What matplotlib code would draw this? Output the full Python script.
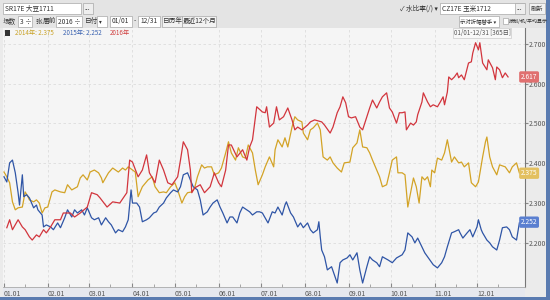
import matplotlib
matplotlib.use("Agg")
import matplotlib.pyplot as plt
import matplotlib.transforms as mtransforms
from matplotlib.patches import Rectangle

plt.rcParams['font.family'] = ['Noto Sans CJK SC', 'DejaVu Sans']

# ---- data (day of year, price) ----
red_days = [2, 4, 6, 10, 13, 15, 18, 20, 23, 25, 28, 30, 33, 36, 40, 42, 47, 50, 54, 59,
            62, 66, 68, 73, 77, 82, 87, 89, 91, 95, 98, 101, 103, 107, 110, 113, 116, 119, 123, 125,
            127, 130, 132, 133, 135, 139, 142, 146, 149, 152, 154, 157, 159, 161, 165, 169, 172, 174, 176, 179,
            183, 185, 186, 188, 191, 193, 195, 198, 201, 204, 206, 208, 211, 215, 217, 220, 225, 227, 231, 233,
            236, 238, 240, 242, 244, 246, 249, 252, 254, 257, 259, 261, 264, 266, 268, 271, 273, 275, 278, 280,
            282, 284, 285, 288, 290, 292, 293, 296, 297, 300, 302, 304, 307, 309, 311, 312, 314, 315, 317, 319,
            321, 322, 324, 326, 329, 331, 332, 334, 336, 337, 339, 342, 343, 346, 348, 349, 351, 353, 355, 357]
red_vals = [2.238, 2.258, 2.233, 2.258, 2.240, 2.233, 2.215, 2.207, 2.220, 2.215, 2.233, 2.225, 2.240, 2.258, 2.258, 2.275, 2.275, 2.265, 2.275, 2.290,
            2.326, 2.321, 2.313, 2.290, 2.303, 2.300, 2.326, 2.408, 2.403, 2.366, 2.383, 2.421, 2.376, 2.351, 2.408, 2.383, 2.351, 2.346, 2.366, 2.408,
            2.454, 2.434, 2.383, 2.326, 2.338, 2.346, 2.326, 2.341, 2.376, 2.351, 2.341, 2.383, 2.446, 2.446, 2.416, 2.434, 2.408, 2.441, 2.459, 2.542,
            2.529, 2.527, 2.542, 2.491, 2.501, 2.542, 2.509, 2.517, 2.539, 2.509, 2.484, 2.491, 2.484, 2.496, 2.504, 2.509, 2.504, 2.496, 2.476, 2.491,
            2.527, 2.542, 2.567, 2.552, 2.517, 2.514, 2.517, 2.491, 2.484, 2.517, 2.539, 2.559, 2.539, 2.554, 2.567, 2.577, 2.539, 2.529, 2.501, 2.527,
            2.527, 2.529, 2.484, 2.501, 2.496, 2.504, 2.522, 2.554, 2.577, 2.554, 2.542, 2.547, 2.542, 2.554, 2.567, 2.547, 2.579, 2.617, 2.610, 2.617,
            2.627, 2.615, 2.622, 2.610, 2.652, 2.655, 2.677, 2.703, 2.685, 2.703, 2.652, 2.635, 2.660, 2.640, 2.610, 2.642, 2.635, 2.615, 2.627, 2.617]

gold_days = [0, 2, 4, 6, 8, 10, 13, 15, 17, 18, 21, 23, 25, 27, 29, 31, 34, 36, 40, 43,
             45, 48, 52, 54, 56, 59, 61, 64, 67, 69, 70, 74, 77, 81, 84, 86, 88, 91, 93, 95,
             98, 102, 105, 107, 110, 113, 115, 118, 121, 123, 126, 128, 130, 133, 135, 137, 140, 142, 144, 147,
             149, 152, 154, 157, 159, 161, 164, 166, 169, 171, 173, 176, 178, 180, 183, 185, 188, 191, 192, 194,
             197, 199, 201, 204, 206, 208, 211, 212, 215, 217, 219, 222, 224, 226, 229, 231, 233, 236, 239, 241,
             245, 247, 250, 252, 254, 257, 259, 261, 264, 266, 268, 271, 273, 275, 278, 279, 282, 284, 286, 288,
             290, 292, 294, 296, 298, 300, 302, 303, 305, 307, 310, 312, 314, 317, 319, 322, 324, 326, 329, 331,
             334, 336, 339, 341, 342, 344, 346, 349, 351, 355, 358, 360, 363, 365]
gold_vals = [2.378, 2.366, 2.351, 2.303, 2.283, 2.288, 2.290, 2.328, 2.316, 2.308, 2.303, 2.308, 2.300, 2.275, 2.288, 2.290, 2.328, 2.333, 2.328, 2.326,
             2.346, 2.333, 2.341, 2.363, 2.371, 2.358, 2.378, 2.383, 2.376, 2.363, 2.351, 2.376, 2.388, 2.378, 2.388, 2.383, 2.391, 2.383, 2.378, 2.316,
             2.341, 2.358, 2.366, 2.341, 2.326, 2.328, 2.326, 2.341, 2.351, 2.333, 2.300, 2.316, 2.326, 2.328, 2.338, 2.366, 2.396, 2.388, 2.391, 2.391,
             2.371, 2.376, 2.388, 2.426, 2.454, 2.426, 2.408, 2.439, 2.416, 2.413, 2.446, 2.426, 2.383, 2.346, 2.371, 2.391, 2.416, 2.391, 2.434, 2.459,
             2.441, 2.464, 2.441, 2.491, 2.517, 2.509, 2.504, 2.476, 2.459, 2.484, 2.489, 2.501, 2.484, 2.416, 2.408, 2.416, 2.401, 2.388, 2.378, 2.401,
             2.403, 2.439, 2.451, 2.484, 2.441, 2.439, 2.426, 2.408, 2.383, 2.366, 2.341, 2.346, 2.376, 2.408, 2.416, 2.376, 2.376, 2.371, 2.290, 2.326,
             2.363, 2.341, 2.300, 2.366, 2.358, 2.366, 2.341, 2.383, 2.376, 2.413, 2.408, 2.426, 2.459, 2.403, 2.416, 2.401, 2.403, 2.391, 2.401, 2.351,
             2.341, 2.353, 2.416, 2.454, 2.466, 2.416, 2.391, 2.371, 2.396, 2.391, 2.376, 2.391, 2.401, 2.376]

blue_days = [0, 2, 4, 6, 8, 9, 10, 11, 13, 14, 16, 18, 21, 23, 24, 27, 28, 30, 33, 35,
             38, 40, 43, 45, 48, 50, 52, 55, 57, 59, 62, 64, 67, 69, 72, 74, 76, 79, 81, 84,
             86, 88, 90, 91, 94, 96, 98, 101, 103, 106, 108, 110, 113, 115, 118, 120, 123, 125, 127, 130,
             132, 134, 137, 139, 141, 144, 146, 148, 151, 153, 155, 158, 160, 162, 165, 167, 169, 172, 174, 176,
             179, 181, 183, 187, 190, 192, 194, 197, 199, 200, 203, 205, 208, 210, 212, 215, 217, 219, 222, 223,
             224, 225, 227, 229, 232, 236, 238, 240, 243, 245, 247, 250, 252, 254, 257, 259, 261, 264, 266, 268,
             272, 275, 278, 282, 284, 286, 289, 291, 293, 296, 298, 300, 304, 307, 310, 312, 314, 317, 319, 322,
             323, 325, 328, 330, 332, 335, 336, 338, 339, 342, 344, 346, 349, 351, 353, 356, 358, 360, 363, 365]
blue_vals = [2.366, 2.353, 2.401, 2.408, 2.376, 2.351, 2.326, 2.295, 2.371, 2.316, 2.321, 2.313, 2.288, 2.295, 2.283, 2.270, 2.240, 2.245, 2.240, 2.233,
             2.250, 2.238, 2.263, 2.283, 2.265, 2.283, 2.275, 2.283, 2.270, 2.288, 2.263, 2.258, 2.263, 2.245, 2.263, 2.253, 2.245, 2.225, 2.233, 2.228,
             2.240, 2.258, 2.333, 2.300, 2.300, 2.290, 2.253, 2.258, 2.263, 2.275, 2.278, 2.290, 2.300, 2.313, 2.326, 2.333, 2.328, 2.341, 2.371, 2.376,
             2.358, 2.341, 2.333, 2.308, 2.270, 2.278, 2.290, 2.300, 2.308, 2.290, 2.275, 2.250, 2.265, 2.265, 2.250, 2.275, 2.290, 2.283, 2.278, 2.270,
             2.278, 2.278, 2.275, 2.250, 2.278, 2.275, 2.290, 2.270, 2.295, 2.303, 2.275, 2.265, 2.240, 2.250, 2.238, 2.250, 2.233, 2.225, 2.233, 2.253,
             2.215, 2.182, 2.165, 2.132, 2.140, 2.099, 2.150, 2.157, 2.162, 2.170, 2.157, 2.175, 2.132, 2.099, 2.140, 2.165, 2.157, 2.150, 2.140, 2.165,
             2.157, 2.150, 2.162, 2.170, 2.182, 2.225, 2.215, 2.200, 2.212, 2.190, 2.175, 2.165, 2.145, 2.137, 2.150, 2.165, 2.190, 2.225, 2.228, 2.233,
             2.225, 2.212, 2.225, 2.233, 2.215, 2.240, 2.258, 2.233, 2.225, 2.207, 2.200, 2.190, 2.182, 2.207, 2.238, 2.240, 2.233, 2.215, 2.207, 2.250]

month_days = [0, 31, 60, 91, 121, 152, 182, 213, 244, 274, 305, 335]
month_labels = ["01.01", "02.01", "03.01", "04.01", "05.01", "06.01",
                "07.01", "08.01", "09.01", "10.01", "11.01", "12.01"]
y_ticks = [2.2, 2.3, 2.4, 2.5, 2.6, 2.7]

legend_items = [("2014年: 2.375", "#c9a227"), ("2015年: 2.252", "#3a62b0"), ("2016年", "#d04040")]
last_tags = [(2.617, "2.617", "#e07070"), (2.375, "2.375", "#e3c060"), (2.252, "2.252", "#5a7fd0")]

RED, GOLD, BLUE = "#d2353d", "#d3a326", "#2f55a6"

# ---------------------------------------------------------------------------
fig = plt.figure(figsize=(5.5, 3), dpi=100)
fig.patch.set_facecolor("#ebebeb")

ax = fig.add_axes([3 / 550, 1 - 287 / 300, 522 / 550, 259 / 300])
ax.set_facecolor("#f5f5f5")

ax.plot(gold_days, gold_vals, color=GOLD, lw=0.9)
ax.plot(blue_days, blue_vals, color=BLUE, lw=0.9)
ax.plot(red_days, red_vals, color=RED, lw=0.9)

ax.set_xlim(-0.7, 369)
ax.set_ylim(2.089, 2.740)

ax.set_xticks(month_days)
ax.set_xticklabels(month_labels, ha="left")
ax.set_xticks([d + 15 for d in month_days], minor=True)
ax.set_yticks(y_ticks)
ax.set_yticklabels([f"{v:.3f}" for v in y_ticks])
ax.yaxis.tick_right()
ax.tick_params(axis="x", which="major", direction="in", length=3, labelsize=5,
               labelcolor="#555555", color="#888888", pad=2)
ax.tick_params(axis="x", which="minor", direction="in", length=2, color="#999999")
ax.tick_params(axis="y", direction="out", length=2, labelsize=5, labelcolor="#555555",
               color="#888888", pad=1)
ax.grid(True, color="#dcdcdc", ls=(0, (3, 3)), lw=0.6)

for side in ["top", "left"]:
    ax.spines[side].set_visible(False)
ax.spines["right"].set_color("#777777")
ax.spines["right"].set_linewidth(0.8)
ax.spines["bottom"].set_color("#aaaaaa")
ax.spines["bottom"].set_linewidth(0.6)

# label band under the x axis and the window frame
fig.patches.append(Rectangle((3 / 550, 1 - 297 / 300), 522 / 550, 10 / 300,
                             transform=fig.transFigure, fc="#e6e8ee", ec="none", zorder=-1))
fig.patches.append(Rectangle((546 / 550, 0), 4 / 550, 1,
                             transform=fig.transFigure, fc="#5a7bb0", ec="none"))
fig.patches.append(Rectangle((0, 0), 1, 3 / 300,
                             transform=fig.transFigure, fc="#5a7bb0", ec="none"))

# last value tags on the right axis
trans = mtransforms.blended_transform_factory(ax.transAxes, ax.transData)
for val, txt, col in last_tags:
    ax.text(0.992, val, txt, transform=trans, fontsize=4.8, color="white",
            va="center", ha="left", clip_on=False,
            bbox=dict(boxstyle="round,pad=0.25", fc=col, ec="none"))

# legend row and period label
lx = 15 / 550
for txt, col in legend_items:
    fig.text(lx, 1 - 33 / 300, txt, fontsize=4.5, color=col, va="center", ha="left")
    lx += (len(txt) * 3.3 + 8) / 550
fig.patches.append(Rectangle((5 / 550, 1 - 36 / 300), 5 / 550, 6 / 300,
                             transform=fig.transFigure, fc="#333333", ec="none"))
fig.text(482 / 550, 1 - 33 / 300, "01/01-12/31 [365日]", fontsize=4.5, color="#555555",
         ha="center", va="center",
         bbox=dict(boxstyle="square,pad=0.15", fc="#f8f8f8", ec="#cccccc", lw=0.5))

# toolbar
def box(x, y, w, h, fc="white", ec="#a8a8a8"):
    fig.patches.append(Rectangle((x / 550, 1 - (y + h) / 300), w / 550, h / 300,
                                 transform=fig.transFigure, fc=fc, ec=ec, lw=0.5))

def label(x, y, s, size=4.8, color="#333333"):
    fig.text(x / 550, 1 - y / 300, s, fontsize=size, color=color, va="center", ha="left")

fig.patches.append(Rectangle((0, 1 - 28 / 300), 1, 28 / 300, transform=fig.transFigure,
                             fc="#e4e4e4", ec="none", zorder=-2))
box(3, 3, 78, 11)
label(5, 8.5, "SR17E 大豆1711")
box(83, 3, 10, 11, fc="#eeeeee")
label(85, 8, "...")
label(400, 8.5, "✓ 水比率(/) ▾")
box(440, 3, 84, 11)
label(442, 8.5, "CZ17E 玉米1712")
box(515, 3, 10, 11, fc="#eeeeee")
label(517, 8, "...")
box(529, 3, 16, 11, fc="#f2f2f2")
label(531, 8.5, "刷新", size=4.5)

label(3, 21.5, "场数")
box(18, 16, 14, 11)
label(20, 21.5, "3 ÷")
label(35, 21.5, "张")
label(43, 21.5, "届前")
box(56, 16, 26, 11)
label(58, 21.5, "2016 ÷")
label(85, 21.5, "日付")
box(97, 16, 10, 11)
label(99, 21.5, "▾", size=4)
box(110, 16, 22, 11)
label(112, 21.5, "01/01")
label(134, 21.5, "-")
box(138, 16, 22, 11)
label(140, 21.5, "12/31")
box(162, 16, 20, 11, fc="#f2f2f2")
label(163, 21.5, "日历年")
box(182, 16, 34, 11, fc="#f2f2f2")
label(183, 21.5, "最近12个月")
box(459, 16, 40, 11)
label(460, 21.5, "示对折幅替手 ▾", size=3.9)
box(503, 18, 5, 6)
label(509, 21.5, "按制/机/平均显示", size=3.6)

fig.savefig("out.png", dpi=100, facecolor=fig.get_facecolor())
